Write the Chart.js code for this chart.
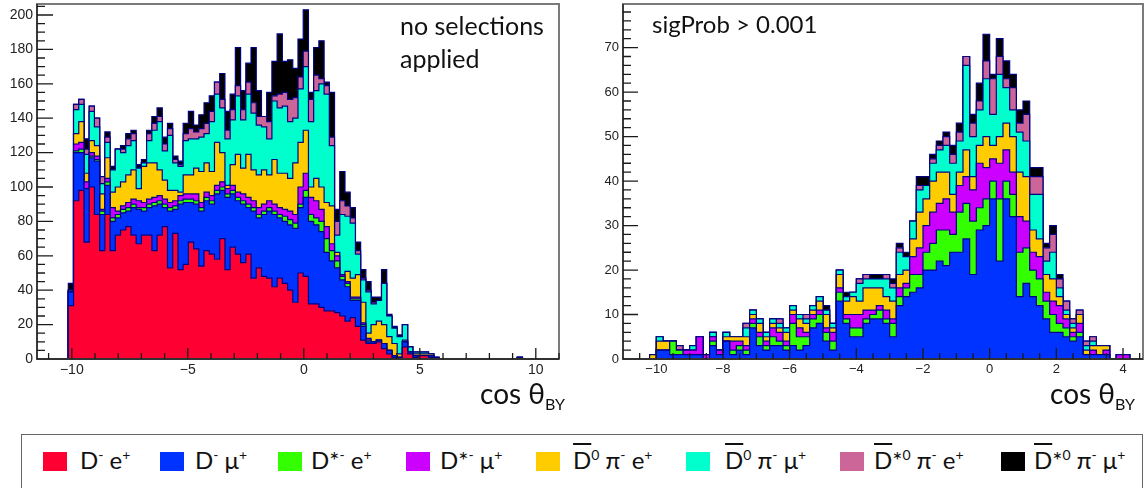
<!DOCTYPE html>
<html>
<head>
<meta charset="utf-8">
<script src="https://cdn.jsdelivr.net/npm/chart.js@4.4.1/dist/chart.umd.min.js"></script>
<style>
  body { margin: 0; background: #fff; width: 1145px; height: 488px; position: relative; overflow: hidden; font-family: Lato, "Noto Sans", sans-serif; }
  .panel { position: absolute; top: 0; height: 385px; }
  .note { position: absolute; color: #111; white-space: nowrap; }
  .axtitle { position: absolute; font-size: 28px; color: #111; white-space: nowrap; text-align: right; }
  .axtitle sub { font-size: 16px; vertical-align: -6px; }
  #legend { position: absolute; left: 21px; top: 434px; width: 1122px; height: 70px; border: 1.5px solid #666; box-sizing: border-box; }
  .sw { position: absolute; top: 452px; width: 24px; height: 19px; }
  .lt { position: absolute; top: 446px; font-size: 24px; line-height: 28px; color: #111; white-space: nowrap; }
  .lt sup { font-size: 14px; vertical-align: 9px; line-height: 0; }
  .ov { text-decoration: overline; }
</style>
</head>
<body>
<div class="panel" style="left:0;width:565px"><canvas id="allChart" width="565" height="385"></canvas></div>
<div class="panel" style="left:575px;width:570px"><canvas id="selChart" width="570" height="385"></canvas></div>

<div class="note" style="left:400px;top:9px;font-size:25px;line-height:33px">no selections<br>applied</div>
<div class="note" style="left:652px;top:10px;font-size:24px;line-height:28px">sigProb &gt; 0.001</div>

<div class="axtitle" style="left:435px;top:376px;width:130px">cos &theta;<sub>BY</sub></div>
<div class="axtitle" style="left:1005px;top:376px;width:130px">cos &theta;<sub>BY</sub></div>

<div id="legend"></div>
<div class="sw" style="left:43px;background:#ff0033"></div>
<div class="lt" style="left:80px">D<sup>-</sup> e<sup>+</sup></div>
<div class="sw" style="left:160px;background:#0033ff"></div>
<div class="lt" style="left:195px">D<sup>-</sup> &mu;<sup>+</sup></div>
<div class="sw" style="left:278px;background:#33ff00"></div>
<div class="lt" style="left:311px">D*<sup>-</sup> e<sup>+</sup></div>
<div class="sw" style="left:406px;background:#cc00ff"></div>
<div class="lt" style="left:440px">D*<sup>-</sup> &mu;<sup>+</sup></div>
<div class="sw" style="left:536px;background:#ffcc00"></div>
<div class="lt" style="left:573px"><span class="ov">D</span><sup>0</sup> &pi;<sup>-</sup> e<sup>+</sup></div>
<div class="sw" style="left:686px;background:#00ffcc"></div>
<div class="lt" style="left:725px"><span class="ov">D</span><sup>0</sup> &pi;<sup>-</sup> &mu;<sup>+</sup></div>
<div class="sw" style="left:840px;background:#cc6699"></div>
<div class="lt" style="left:874px"><span class="ov">D</span>*<sup>0</sup> &pi;<sup>-</sup> e<sup>+</sup></div>
<div class="sw" style="left:1001px;background:#000000"></div>
<div class="lt" style="left:1034px"><span class="ov">D</span>*<sup>0</sup> &pi;<sup>-</sup> &mu;<sup>+</sup></div>

<script>
// decay channels, bottom of the stack first
const channels = ['D- e+', 'D- mu+', 'D*- e+', 'D*- mu+', 'D0bar pi- e+', 'D0bar pi- mu+', 'D*0bar pi- e+', 'D*0bar pi- mu+'];
const colors = ['#ff0033', '#0033ff', '#33ff00', '#cc00ff', '#ffcc00', '#00ffcc', '#cc6699', '#000000'];

// left histogram: 100 bins on [-11.5, 11], filled bins start at bin 6
const allRange = [-11.5, 11];
const allBins = 100;
const allFirst = 6;
const allDe = [31,92,98,68,100,84,63,84,63,72,75,77,72,67,72,72,63,72,77,53,73,52,55,68,64,54,63,61,58,70,52,65,61,56,61,47,53,48,47,42,47,44,40,33,50,48,32,32,30,28,28,27,25,22,24,19,11,9,9,10,6,3,1,1,7,3,1,2,2,1,0,0,0,0,0,0,0,0,0,0,0,0,0,0,0,0,0];
const allDmu = [8,28,22,31,17,31,21,17,17,10,10,9,16,20,14,16,26,18,11,33,14,38,36,23,26,32,29,29,38,28,42,31,31,34,27,39,29,36,39,42,35,36,38,43,38,46,48,46,44,34,29,26,21,20,10,15,8,1,1,1,3,2,1,0,3,1,1,0,0,1,0,0,0,0,0,0,0,0,0,0,0,0,0,0,0,0,0];
const allDsE = [0,1,2,0,1,1,2,2,2,2,2,2,2,1,2,2,2,2,2,2,2,2,2,2,2,2,2,2,2,2,2,2,2,2,2,2,2,2,2,2,2,3,3,3,2,4,4,4,6,8,6,4,2,2,1,1,1,1,0,0,0,0,0,0,0,0,0,0,0,0,0,0,0,0,0,0,0,0,0,0,0,0,0,0,0,0,0];
const allDsMu = [0,4,4,4,2,2,1,2,6,2,2,3,3,4,3,3,3,3,3,3,3,3,3,3,4,3,3,3,3,3,3,3,3,4,4,4,4,4,4,4,4,4,5,5,10,10,10,10,7,7,4,3,1,1,1,1,1,1,0,0,0,0,0,0,0,0,0,0,0,0,0,0,0,0,0,0,0,0,0,0,0,0,0,0,0,0,1];
const allD0E = [1,6,12,5,7,6,9,12,9,14,14,16,17,7,21,21,20,15,11,7,6,2,11,11,15,18,17,14,25,17,2,12,22,15,25,18,19,20,15,26,20,21,19,30,26,25,6,13,13,14,22,2,0,6,11,13,12,3,10,11,11,8,7,2,1,0,1,1,1,1,1,0,0,0,0,0,0,0,0,0,0,0,0,0,0,0,0];
const allD0Mu = [0,14,10,11,17,11,6,9,13,22,17,17,17,12,2,13,19,28,17,32,16,15,20,21,17,20,17,29,28,26,27,26,34,28,35,33,29,25,21,34,38,39,33,26,31,37,38,51,60,63,35,10,35,32,32,12,13,24,12,12,24,12,9,10,9,3,1,1,1,0,0,0,0,0,0,0,0,0,0,0,0,0,0,0,0,0,0];
const allDs0E = [0,3,3,3,3,5,4,3,0,0,2,4,4,0,0,4,4,3,4,4,2,1,4,6,4,5,6,6,7,5,5,6,6,6,7,6,5,6,10,3,8,8,13,12,7,9,13,9,3,5,5,8,8,6,3,2,1,1,1,0,0,0,0,0,0,0,0,0,0,0,0,0,0,0,0,0,0,0,0,0,0,0,0,0,0,0,0];
const allDs0Mu = [4,0,0,6,0,0,0,3,2,0,2,3,2,2,2,2,4,5,4,3,2,2,6,10,4,8,12,9,0,15,11,9,22,11,11,32,15,0,17,20,35,18,23,17,22,24,4,16,22,2,26,7,17,8,6,5,5,5,3,2,8,1,1,1,0,0,0,0,0,0,0,0,0,0,0,0,0,0,0,0,0,0,0,0,0,0,0];

// right histogram: 78 bins on [-11, 4.6], filled bins start at bin 4
const selRange = [-11, 4.6];
const selBins = 78;
const selFirst = 4;
const selDe = Array(72).fill(0);
const selDmu = [0,2,2,1,1,1,1,1,0,3,1,4,1,2,1,7,3,2,3,3,2,3,2,3,7,8,4,2,13,8,5,5,8,9,9,8,5,12,14,15,16,20,20,22,21,24,24,27,19,29,30,36,22,36,32,14,17,14,12,9,6,6,5,4,5,1,1,1,1,0,0,0];
const selDsE = [0,0,0,3,1,0,0,0,0,1,0,0,1,1,1,1,2,1,2,1,1,5,3,2,2,2,2,2,2,1,2,2,1,1,2,1,3,2,2,4,3,4,6,7,8,4,9,8,12,5,6,4,14,4,5,10,8,6,6,4,4,2,2,1,1,0,0,0,0,0,0,0];
const selDsMu = [0,0,0,0,0,1,1,4,1,1,1,0,2,1,1,1,1,1,2,2,1,2,2,1,1,1,1,2,1,1,3,3,2,1,1,2,1,2,1,4,6,6,7,6,7,5,6,6,7,10,7,5,8,7,5,8,6,4,5,2,3,4,2,1,2,0,1,0,1,0,1,1];
const selD0E = [1,2,2,0,0,0,0,0,0,0,0,1,1,1,2,1,2,1,1,1,2,1,2,2,1,2,3,1,3,3,4,3,5,5,4,3,4,3,3,4,8,6,7,7,6,4,3,6,3,4,7,3,6,6,8,10,10,5,4,4,5,2,1,1,2,1,1,2,1,0,0,0];
const selD0Mu = [0,1,0,0,0,0,1,0,0,1,0,1,0,0,2,1,1,1,1,1,1,1,1,1,1,1,1,1,1,1,1,4,2,2,2,4,3,5,3,4,5,3,4,5,6,7,7,19,9,8,13,7,14,8,6,9,8,8,10,3,6,2,1,1,0,1,1,0,0,0,0,0];
const selDs0E = [0,0,0,0,1,0,0,0,0,0,0,0,0,0,1,0,0,0,0,1,0,0,0,1,0,0,0,0,0,0,0,1,1,0,0,1,1,1,0,0,1,0,1,1,2,2,2,2,3,2,4,8,4,2,5,2,6,4,4,3,4,2,2,1,1,1,1,0,0,0,0,0];
const selDs0Mu = [0,0,0,0,0,0,0,0,0,0,0,0,0,0,0,0,0,0,0,0,0,0,0,0,0,0,1,0,0,1,0,0,0,1,1,0,1,1,1,0,2,2,1,1,1,2,2,0,2,4,6,1,4,4,3,3,3,2,2,1,2,1,0,0,0,0,0,0,0,0,0,0];

// turn per-bin counts into step points covering the whole histogram range
function stepPoints(counts, range, nBins, first) {
  const w = (range[1] - range[0]) / nBins;
  const pts = [];
  let v = 0;
  for (let i = 0; i < nBins; i++) {
    const j = i - first;
    v = (j >= 0 && j < counts.length) ? counts[j] : 0;
    pts.push({ x: range[0] + i * w, y: v });
  }
  pts.push({ x: range[1], y: v });
  return pts;
}

function makeDatasets(series, range, nBins, first) {
  return series.map((counts, i) => ({
    label: channels[i],
    data: stepPoints(counts, range, nBins, first),
    stepped: true,
    fill: i === 0 ? 'origin' : '-1',
    backgroundColor: colors[i],
    borderColor: '#000080',
    borderWidth: 1.2,
    pointRadius: 0,
  }));
}

// ROOT style frame with inward tick marks
const frameTicks = {
  id: 'frameTicks',
  afterDatasetsDraw(chart, args, opts) {
    const { ctx, chartArea: a, scales: { x, y } } = chart;
    ctx.save();
    ctx.strokeStyle = '#7a7a7a';
    ctx.lineWidth = 2;
    ctx.strokeRect(a.left, a.top, a.right - a.left, a.bottom - a.top);
    ctx.strokeStyle = '#1a1a1a';
    ctx.lineWidth = 1.3;
    ctx.beginPath();
    ctx.moveTo(a.left, a.top); ctx.lineTo(a.left, a.bottom); ctx.lineTo(a.right, a.bottom);
    const isMajor = (v, step) => Math.abs(v / step - Math.round(v / step)) < 1e-6;
    const x0 = Math.ceil(x.min / opts.xMinor) * opts.xMinor;
    for (let v = x0; v <= x.max + 1e-9; v += opts.xMinor) {
      const px = x.getPixelForValue(v);
      const len = isMajor(v, opts.xMajor) ? opts.xLong : opts.xShort;
      ctx.moveTo(px, a.bottom); ctx.lineTo(px, a.bottom - len);
    }
    for (let v = 0; v <= y.max + 1e-9; v += opts.yMinor) {
      const py = y.getPixelForValue(v);
      const len = isMajor(v, opts.yMajor) ? opts.yLong : opts.yShort;
      ctx.moveTo(a.left, py); ctx.lineTo(a.left + len, py);
    }
    ctx.stroke();
    ctx.restore();
  }
};

const fmt = v => (v < 0 ? '\u2212' + Math.abs(v) : String(v));

function drawPanel(id, series, range, nBins, first, cfg) {
  new Chart(document.getElementById(id), {
    type: 'line',
    data: { datasets: makeDatasets(series, range, nBins, first) },
    plugins: [frameTicks],
    options: {
      responsive: false,
      animation: false,
      events: [],
      layout: { padding: { top: 4, right: cfg.padRight, left: 0, bottom: 0 } },
      plugins: {
        legend: { display: false },
        tooltip: { enabled: false },
        frameTicks: cfg.ticks,
      },
      scales: {
        x: {
          type: 'linear',
          min: range[0],
          max: range[1],
          grid: { display: false, drawTicks: false },
          border: { display: false },
          afterFit: s => { s.height = 26; s.paddingLeft = 0; s.paddingRight = 0; },
          ticks: {
            stepSize: cfg.ticks.xMinor,
            autoSkip: false,
            maxRotation: 0,
            padding: 3,
            color: '#222',
            font: { family: 'Liberation Sans', size: cfg.xFont },
            callback: v => (Math.abs(v / cfg.ticks.xMajor - Math.round(v / cfg.ticks.xMajor)) < 1e-6 ? fmt(Math.round(v)) : ''),
          },
        },
        y: {
          stacked: true,
          min: 0,
          max: cfg.yMax,
          grid: { display: false, drawTicks: false },
          border: { display: false },
          afterFit: s => { s.width = cfg.yWidth; s.paddingTop = 0; s.paddingBottom = 0; },
          ticks: {
            stepSize: cfg.ticks.yMinor,
            autoSkip: false,
            padding: 4,
            color: '#222',
            font: { family: 'Liberation Sans', size: cfg.yFont },
            callback: v => (Math.abs(v / cfg.ticks.yMajor - Math.round(v / cfg.ticks.yMajor)) < 1e-6 ? String(Math.round(v)) : ''),
          },
        },
      },
    },
  });
}

drawPanel('allChart', [allDe, allDmu, allDsE, allDsMu, allD0E, allD0Mu, allDs0E, allDs0Mu], allRange, allBins, allFirst, {
  padRight: 6, yWidth: 37, yMax: 206.4, xFont: 14, yFont: 14,
  ticks: { xMinor: 1, xMajor: 5, xLong: 11, xShort: 6, yMinor: 5, yMajor: 20, yLong: 16, yShort: 8 },
});

drawPanel('selChart', [selDe, selDmu, selDsE, selDsMu, selD0E, selD0Mu, selDs0E, selDs0Mu], selRange, selBins, selFirst, {
  padRight: 2, yWidth: 48, yMax: 79.8, xFont: 13, yFont: 13,
  ticks: { xMinor: 0.5, xMajor: 2, xLong: 11, xShort: 6, yMinor: 2, yMajor: 10, yLong: 15, yShort: 8 },
});
</script>
</body>
</html>
